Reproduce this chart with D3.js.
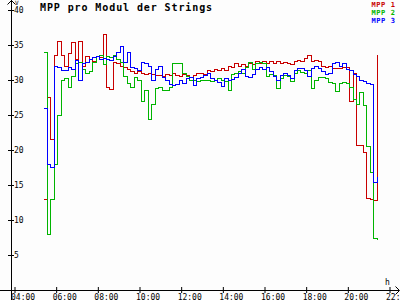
<!DOCTYPE html>
<html>
<head>
<meta charset="utf-8">
<script src="https://cdn.jsdelivr.net/npm/d3@7"></script>
<style>
  body { margin: 0; background: #fdfdfd; }
  svg { display: block; }
  text { font-family: "DejaVu Sans Mono", monospace; fill: #000; }
</style>
</head>
<body>
<div id="chart"></div>
<script>
// readings every 10 minutes
const times = [
  "05:25","05:35","05:45","05:55",
  "06:05","06:15","06:25","06:35","06:45","06:55",
  "07:05","07:15","07:25","07:35","07:45","07:55",
  "08:05","08:15","08:25","08:35","08:45","08:55",
  "09:05","09:15","09:25","09:35","09:45","09:55",
  "10:05","10:15","10:25","10:35","10:45","10:55",
  "11:05","11:15","11:25","11:35","11:45","11:55",
  "12:05","12:15","12:25","12:35","12:45","12:55",
  "13:05","13:15","13:25","13:35","13:45","13:55",
  "14:05","14:15","14:25","14:35","14:45","14:55",
  "15:05","15:15","15:25","15:35","15:45","15:55",
  "16:05","16:15","16:25","16:35","16:45","16:55",
  "17:05","17:15","17:25","17:35","17:45","17:55",
  "18:05","18:15","18:25","18:35","18:45","18:55",
  "19:05","19:15","19:25","19:35","19:45","19:55",
  "20:05","20:15","20:25","20:35","20:45","20:55",
  "21:05","21:15","21:25"
];

const mpp1 = [
  13, 27.5, 21.5, 33.5,
  35.5, 33.5, 32.0, 33.8, 35.3, 33.0,
  35.5, 32.0, 33.3, 33.0, 32.7, 33.3,
  33.2, 36.5, 29.0, 28.6, 32.5, 32.3,
  32.0, 31.8, 31.5, 31.2, 31.0, 31.2,
  31.0, 30.8, 31.0, 30.8, 30.6, 30.7,
  30.5, 30.8, 30.6, 30.9, 30.7, 30.5,
  30.8, 30.6, 30.4, 30.7, 30.9, 31.0,
  30.8, 31.3, 31.2, 31.5, 31.3, 31.6,
  31.4, 32.0, 31.8, 32.3, 31.9, 32.2,
  32.0, 32.4, 32.2, 32.6, 32.4, 32.6,
  32.3, 32.7, 32.4, 32.6, 32.3, 32.5,
  32.3, 32.2, 32.6, 32.8, 32.7, 33.1,
  33.5, 32.6, 32.8, 32.6, 32.0, 31.8,
  31.9, 31.6, 31.7, 31.7, 31.8, 31.8,
  27.0, 31.0, 20.6, 20.6, 19.6, 13.1,
  12.9, 12.8, 33.6
];

const mpp2 = [
  34, 8, 13, 18,
  25, 30, 30.2, 29, 30.5, 32.3,
  32.5, 31.5, 31.0, 31.2, 32.5, 33.3,
  33.5, 32.2, 33.3, 33.2, 33.5, 33.0,
  32.5, 30.5, 29.5, 29.0, 30.3, 30.0,
  27.0, 28.5, 24.3, 26.5, 28.8, 29.0,
  28.5, 28.5, 29.0, 32.3, 32.4, 32.3,
  31.0, 30.5, 30.0, 30.0, 29.8, 30.0,
  30.0, 30.0, 29.8, 30.0, 30.2, 30.0,
  29.8, 28.5, 30.8, 31.0, 31.2, 31.0,
  31.8, 32.5, 31.5, 32.3, 32.5, 32.3,
  30.5, 30.8, 30.6, 28.8, 30.2, 30.6,
  30.5, 29.8, 31.0, 31.3, 31.1, 31.0,
  31.3, 28.8, 30.0, 30.3, 30.3, 30.2,
  29.6, 29.5, 28.3, 29.5, 29.6, 29.5,
  29.0, 27.2, 26.5, 28.2, 26.3, 20.5,
  16.8, 7.3, 7.1
];

const mpp3 = [
  26, 18, 17.5, 32.0,
  31.8, 31.3, 31.3, 31.8, 31.5, 32.8,
  30.0, 32.3, 32.5, 33.0, 33.2, 33.3,
  33.0, 33.1, 33.0, 32.8, 33.3, 34.0,
  34.8, 32.5, 34.0, 31.8, 31.7, 31.3,
  32.5, 32.3, 31.9, 30.0, 31.5, 32.0,
  30.3, 30.0, 29.3, 29.2, 29.4, 29.9,
  29.5, 30.2, 30.3, 29.2, 30.2, 30.4,
  30.6, 31.0, 30.2, 30.0, 29.6, 29.1,
  30.2, 30.0, 30.1, 30.3, 31.0, 31.5,
  30.5, 30.3, 30.8, 31.5, 31.8, 31.5,
  31.8, 31.2, 30.5, 30.0, 30.6, 31.0,
  30.6, 30.2, 31.3, 31.6, 31.7, 31.4,
  30.5, 31.6, 32.0, 31.6, 31.2, 30.8,
  31.0, 32.3, 32.5, 32.0, 32.4, 31.5,
  31.4, 30.8, 30.5, 30.0, 29.8, 29.5,
  29.4, 15.3, 16.2
];

const seriesNames = ["MPP 1", "MPP 2", "MPP 3"];
const seriesColors = ["#c80000", "#00b400", "#0000ff"];
const yTicks = [5, 10, 15, 20, 25, 30, 35, 40];
const xTicks = ["04:00", "06:00", "08:00", "10:00", "12:00", "14:00", "16:00", "18:00", "20:00", "22:00"];
const title = "MPP pro Modul der Strings";

const width = 400, height = 300;
const parse = d3.timeParse("%H:%M");

const svg = d3.select("#chart").append("svg")
  .attr("width", width)
  .attr("height", height);

svg.append("rect").attr("width", width).attr("height", height).attr("fill", "#fdfdfd");

const x = d3.scaleTime()
  .domain([parse("04:00"), parse("22:00")])
  .range([14.5, 389.5]);
const y = d3.scaleLinear()
  .domain([0, 40])
  .range([290, 10]);

// y axis, ticks cross the line, labels on the right
const gy = svg.append("g")
  .attr("transform", "translate(11,0)")
  .call(d3.axisRight(y).tickValues(yTicks).tickSizeOuter(0).tickFormat(d3.format("d")));
gy.select(".domain").remove();
gy.selectAll(".tick line").attr("x1", -3).attr("x2", 3).attr("stroke", "#000");
gy.selectAll(".tick text")
  .attr("x", 3).attr("dy", "0.35em")
  .style("font-size", "8px").style("font-family", "DejaVu Sans Mono, monospace");

// x axis
const gx = svg.append("g")
  .attr("transform", "translate(0,290)")
  .call(d3.axisBottom(x).tickValues(xTicks.map(parse)).tickSizeOuter(0).tickFormat(d3.timeFormat("%H:%M")));
gx.select(".domain").remove();
gx.selectAll(".tick line").attr("y1", -3).attr("y2", 3).attr("stroke", "#000");
gx.selectAll(".tick text")
  .attr("x", -4).attr("y", 9.5).attr("dy", 0)
  .attr("text-anchor", "start")
  .style("font-size", "8px").style("font-family", "DejaVu Sans Mono, monospace");

// axis lines with arrows
const axes = svg.append("g").attr("stroke", "#000").attr("fill", "none")
  .style("shape-rendering", "crispEdges");
axes.append("line").attr("x1", 11.5).attr("x2", 11.5).attr("y1", 0).attr("y2", height);
axes.append("line").attr("x1", 0).attr("x2", 399).attr("y1", 290.5).attr("y2", 290.5);
svg.append("path").attr("d", "M7.5,4.5L11.5,0.5L15.5,4.5").attr("stroke", "#000").attr("fill", "none");
svg.append("path").attr("d", "M395.5,286.5L399.5,290.5L395.5,294.5").attr("stroke", "#000").attr("fill", "none");

svg.append("text").attr("x", 15).attr("y", 4.5).style("font-size", "6px").text("V");
svg.append("text").attr("x", 385).attr("y", 284.5).style("font-size", "8px").text("h");

// series
const series = [mpp1, mpp2, mpp3];
const line = d3.line()
  .x(d => x(d.t))
  .y(d => y(d.v))
  .curve(d3.curveStepAfter);

series.forEach((vals, k) => {
  const pts = times.map((t, i) => ({ t: parse(t), v: vals[i] }));
  svg.append("path")
    .datum(pts)
    .attr("d", line)
    .attr("fill", "none")
    .attr("stroke", seriesColors[k])
    .attr("stroke-width", 1)
    .style("shape-rendering", "crispEdges");
});

// title
svg.append("text")
  .attr("x", 40).attr("y", 11)
  .style("font-size", "10px").style("font-weight", "bold").style("letter-spacing", "0.9px")
  .text(title);

// legend
svg.append("g").selectAll("text")
  .data(seriesNames)
  .join("text")
  .attr("x", 395.5)
  .attr("y", (d, i) => 6.5 + i * 8)
  .attr("text-anchor", "end")
  .style("font-size", "7px").style("font-weight", "bold").style("letter-spacing", "0.6px")
  .style("fill", (d, i) => seriesColors[i])
  .text(d => d);
</script>
</body>
</html>
